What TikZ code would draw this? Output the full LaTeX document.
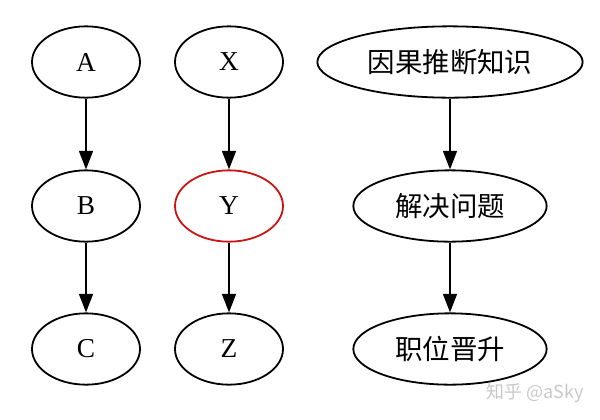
\documentclass[tikz,border=0pt]{standalone}
\usepackage{fontspec}
\setmainfont{Liberation Serif}
\newfontfamily\cjk{Noto Sans CJK SC}
\usetikzlibrary{shapes.geometric,arrows.meta}
\definecolor{nodered}{RGB}{204,20,20}
\definecolor{wmgray}{RGB}{200,200,200}
\begin{document}
\begin{tikzpicture}[x=0.75pt,y=-0.75pt,
  gnode/.style={draw,ellipse,line width=1.35pt,inner sep=0pt,minimum height=53.5pt,font=\fontsize{20.5}{24}\selectfont},
  small/.style={gnode,minimum width=81pt},
  cnode/.style={gnode,font=\cjk\fontsize{20.6}{24}\selectfont},
  edge/.style={line width=1.35pt,-{Triangle[length=14pt,width=10.5pt]}}]
\useasboundingbox (0,0) rectangle (600,419);
\node[small] (A) at (86,62) {A};
\node[small] (B) at (86,206) {B};
\node[small] (C) at (86,349) {C};
\node[small] (X) at (229,62) {X};
\node[small,draw=nodered] (Y) at (229,206) {Y};
\node[small] (Z) at (229,349) {Z};
\node[cnode,minimum width=199pt] (K) at (450,62) {因果推断知识};
\node[cnode,minimum width=145pt] (S) at (450,206) {解决问题};
\node[cnode,minimum width=145pt] (P) at (450,349) {职位晋升};
\draw[edge] (A) -- (B);
\draw[edge] (B) -- (C);
\draw[edge] (X) -- (Y);
\draw[edge] (Y) -- (Z);
\draw[edge] (K) -- (S);
\draw[edge] (S) -- (P);
\node[text=wmgray,font=\cjk\fontsize{13.5}{15}\selectfont,inner sep=0pt] (W) at (535,393) {知乎 @aSky};
\end{tikzpicture}
\end{document}
